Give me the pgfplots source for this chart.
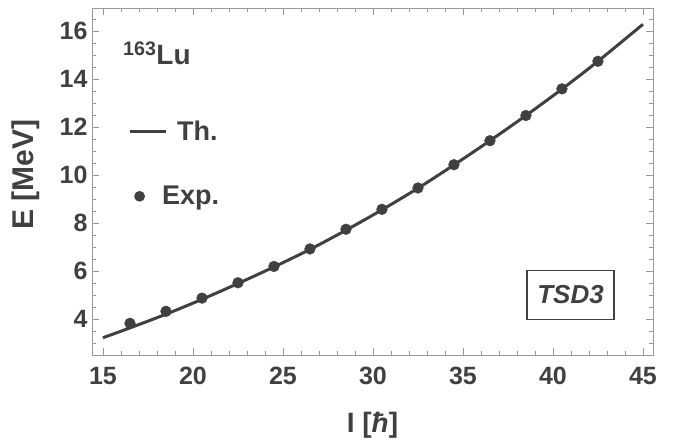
\documentclass[border=0pt]{standalone}
\usepackage{pgfplots}
\pgfplotsset{compat=1.18}
\usepackage{fontspec}
\setmainfont{Liberation Sans}
\definecolor{txt}{HTML}{404040}
\definecolor{frame}{HTML}{999999}
\definecolor{crv}{HTML}{404040}
\begin{document}
\begin{tikzpicture}
\begin{axis}[
  at={(0,0)}, anchor=south west,
  scale only axis, width=561bp, height=347bp,
  xmin=14.39, xmax=45.56, ymin=2.5, ymax=16.96,
  xtick={15,20,...,45}, ytick={4,6,...,16},
  minor xtick={14,...,46}, minor ytick={2.5,3,...,17},
  tick align=inside,
  major tick length=7bp, minor tick length=4bp,
  axis line style={frame, line width=0.8bp},
  every tick/.style={frame, line width=0.8bp},
  /pgf/number format/assume math mode=true,
  tick label style={font=\fontsize{25bp}{29bp}\selectfont\bfseries, text=txt},
  xticklabel style={yshift=-9bp},
  yticklabel style={xshift=-1bp},
  xlabel={I [\textit{ħ}]},
  ylabel={E [MeV]},
  xlabel style={font=\fontsize{28bp}{32bp}\selectfont\bfseries, text=txt, at={(axis description cs:0.5,0)}, anchor=center, yshift=-70bp},
  ylabel style={font=\fontsize{30bp}{34bp}\selectfont\bfseries, text=txt, at={(axis description cs:-0.1176,0.52)}, anchor=center},
  legend style={at={(0.064,0.68)}, anchor=north west, draw=none, fill=none,
    font=\fontsize{27bp}{31bp}\selectfont\bfseries, text=txt,
    row sep=40bp, inner sep=0pt, cells={anchor=west}},
  legend cell align=left,
]
\addplot[crv, line width=3bp, smooth, legend image code/.code={\draw[crv, line width=3bp] (0bp,0bp) -- (36bp,0bp);}] coordinates {
(15,3.22) (16.5,3.63) (18.5,4.2) (20.5,4.82) (22.5,5.48) (24.5,6.17) (26.5,6.9) (28.5,7.7) (30.5,8.55) (32.5,9.45) (34.5,10.42) (36.5,11.43) (38.5,12.48) (40.5,13.58) (42.5,14.74) (45,16.28)};
\addlegendentry{\hspace*{8bp}Th.}
\addplot[only marks, mark=*, mark size=5.4bp, mark options={fill=crv, draw=crv}, legend image code/.code={\path[draw=none, fill=none] (0bp,-0.1bp) rectangle (36bp,0.1bp); \fill[crv, draw=none] (10bp,0bp) circle (5.4bp);}] coordinates {
(16.5,3.82) (18.5,4.32) (20.5,4.87) (22.5,5.51) (24.5,6.19) (26.5,6.92) (28.5,7.74) (30.5,8.57) (32.5,9.46) (34.5,10.43) (36.5,11.43) (38.5,12.48) (40.5,13.59) (42.5,14.74)};
\addlegendentry{\hspace*{-7bp}Exp.}
\node[anchor=base west, text=txt, font=\fontsize{28bp}{32bp}\selectfont\bfseries, inner sep=0pt] at (rel axis cs:0.0553,0.836) {\textsuperscript{163}Lu};
\node[draw=txt, line width=1.2bp, text=txt, font=\fontsize{26bp}{30bp}\selectfont\bfseries\itshape, minimum width=87bp, minimum height=49bp, inner sep=0pt] at (rel axis cs:0.853,0.173) {TSD3};
\end{axis}
\pgfresetboundingbox
\path[use as bounding box] (-92bp,-87bp) rectangle (588bp,355bp);
\end{tikzpicture}
\end{document}
